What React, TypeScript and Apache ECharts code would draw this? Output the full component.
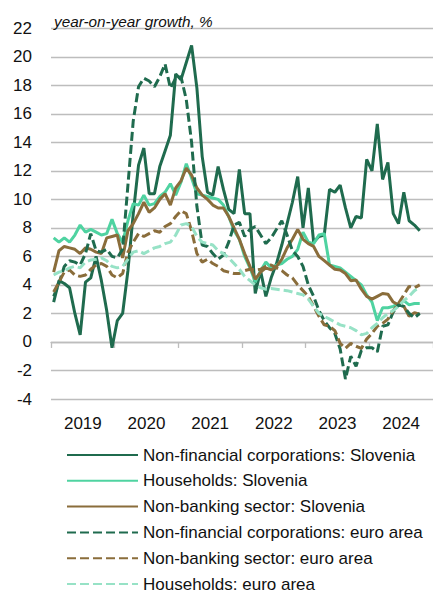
import React, { useEffect, useRef } from 'react';
import * as echarts from 'echarts';

const years = ['2019', '2020', '2021', '2022', '2023', '2024'];
const monthNames = ['Jan', 'Feb', 'Mar', 'Apr', 'May', 'Jun', 'Jul', 'Aug', 'Sep', 'Oct', 'Nov', 'Dec'];
const months = years.flatMap((y) => monthNames.map((m) => `${m} ${y}`));

const yMin = -4;
const yMax = 22;
const yStep = 2;

const titleText = 'year-on-year growth, %';

const seriesNames = [
  'Non-financial corporations: Slovenia',
  'Households: Slovenia',
  'Non-banking sector: Slovenia',
  'Non-financial corporations: euro area',
  'Non-banking sector: euro area',
  'Households: euro area',
];

const nfcSlovenia = [
  2.8, 4.3, 4.1, 3.8, 2.0, 0.5, 4.2, 4.5, 6.0, 4.3, 2.2, -0.4,
  1.5, 2.0, 5.0, 9.0, 12.4, 13.6, 10.4, 10.4, 12.3, 13.4, 14.5, 18.8,
  18.4, 19.6, 20.8, 17.8, 13.0, 10.5, 10.3, 12.3, 10.7, 9.3, 9.0, 12.1,
  9.0, 9.0, 3.4, 5.0, 3.2, 4.5, 5.5, 6.8, 8.3, 9.8, 11.6, 8.0,
  10.8, 7.0, 7.4, 7.5, 10.7, 10.5, 11.0, 9.4, 8.0, 8.8, 8.7, 12.8,
  12.0, 15.3, 11.4, 12.6, 9.0, 8.3, 10.5, 8.5, 8.2, 7.8,
];

const hhSlovenia = [
  7.3, 7.0, 7.3, 7.0, 7.5, 8.2, 7.7, 7.9, 7.7, 7.5, 7.6, 8.6,
  7.6, 7.0, 8.5, 9.7, 9.6, 10.3, 9.6, 9.7, 10.2, 10.5, 11.1, 10.3,
  11.2, 12.5, 11.5, 10.4, 10.3, 10.2, 10.1, 10.0, 9.6, 8.8, 7.8, 7.2,
  6.0, 5.2, 4.2, 5.0, 5.6, 5.2, 5.4, 5.5, 5.8, 6.0, 6.5, 7.7,
  7.0, 6.9, 7.5, 7.6, 5.4, 5.3, 5.2, 4.9, 4.6, 4.3, 4.0, 3.3,
  2.8, 1.5, 2.4, 2.4, 2.5, 2.7, 2.9, 2.6, 2.7, 2.7,
];

const nbsSlovenia = [
  4.9, 6.4, 6.7, 6.6, 6.5, 6.2, 6.6, 6.5, 6.3, 6.2, 7.3, 7.4,
  7.5, 5.9, 7.8, 8.3, 9.0, 9.8, 9.1, 9.4, 10.0, 10.4, 9.6, 10.8,
  11.3, 12.2, 11.7, 10.8, 10.3, 10.0, 9.6, 9.4, 9.4, 8.8, 8.0, 7.2,
  6.2, 5.3, 4.4, 4.9, 5.2, 5.05, 5.3, 5.8, 6.6, 7.2, 7.9, 7.2,
  6.9, 6.7, 6.0, 5.7, 5.4, 5.1, 5.05, 4.8, 4.3, 4.35, 3.7, 3.2,
  3.0, 3.2, 3.4, 3.35, 2.8, 2.6, 2.5, 1.8, 2.05, 1.95,
];

const nfcEuroArea = [
  3.2, 4.1, 5.3, 5.7, 5.6, 5.4, 6.2, 7.6, 6.4, 6.3, 6.5, 6.0,
  5.9, 6.5, 11.0, 15.5, 17.9, 18.5, 18.3, 17.9, 18.6, 19.5, 17.8, 18.5,
  18.6, 17.0, 14.0, 9.5, 6.8, 6.7, 6.2, 5.8, 6.1, 7.0, 8.2, 8.4,
  7.4, 7.9, 8.1, 7.5, 6.9, 7.3, 7.9, 8.5, 7.5, 6.4, 6.0, 5.3,
  4.0, 3.2, 2.2, 1.5, 1.0, 0.6, -0.5, -2.6, -1.0, -1.7, -0.6, -0.4,
  -0.4, -0.7, 1.1, 1.2, 2.1, 2.6, 2.5, 2.0, 1.7, 2.0,
];

const nbsEuroArea = [
  3.5, 4.2, 4.9, 5.05, 4.7, 4.6, 4.7, 5.1, 5.4, 5.5, 5.3, 4.7,
  4.5, 4.8, 6.3, 7.0, 7.6, 7.4, 7.6, 7.8, 7.7, 8.1, 8.3, 8.8,
  9.2, 9.0, 7.8, 6.2, 5.6, 5.8, 5.5, 5.3, 5.0, 4.9, 4.8, 4.8,
  5.0, 5.1, 5.05, 5.1, 5.3, 5.4, 5.2, 5.0, 4.7, 4.5, 4.0, 3.6,
  3.2, 2.5, 1.8, 1.2, 1.1, 0.8, -0.1, -0.45, -0.1, -0.3, -0.45, 0.2,
  0.6, 1.1, 1.3, 1.6, 2.2, 2.7, 3.3, 3.9, 3.8, 4.0,
];

const hhEuroArea = [
  4.7, 4.9, 5.0, 5.2, 5.3, 5.2, 5.6, 5.75, 5.8, 5.9, 5.7, 5.3,
  5.2, 5.3, 5.8, 6.3, 6.4, 6.2, 6.4, 6.6, 6.7, 6.9, 7.0, 7.5,
  8.2, 8.3, 8.1, 7.4, 7.0, 6.9, 6.8, 6.4, 6.2, 5.9, 5.5, 5.1,
  4.6, 4.3, 4.0, 3.8, 3.7, 3.75, 3.7, 3.65, 3.6, 3.5, 3.4, 3.3,
  3.0, 2.5, 2.0, 1.8, 1.6, 1.4, 1.2, 1.1, 1.0, 0.8, 0.5, 0.6,
  1.0, 1.3, 1.7, 2.0, 2.2, 2.5, 2.9, 3.2, 3.6, 3.85,
];

const seriesData = [nfcSlovenia, hhSlovenia, nbsSlovenia, nfcEuroArea, nbsEuroArea, hhEuroArea];

const DARK = '#1f6b4e';
const LIGHT = '#4fd3a1';
const BROWN = '#8a6d3b';
const PALE = '#97e2c6';
const seriesColors = [DARK, LIGHT, BROWN, DARK, BROWN, PALE];
const seriesDashed = [false, false, false, true, true, true];

const FONT = '"Liberation Sans", Arial, sans-serif';
const TEXT = '#111111';
const GRID = '#bdbdbd';

export default function App() {
  const ref = useRef<HTMLDivElement>(null);

  useEffect(() => {
    if (!ref.current) return;
    const chart = echarts.init(ref.current, null, { renderer: 'svg' });
    const option: any = {
      animation: false,
      backgroundColor: '#ffffff',
      textStyle: { fontFamily: FONT },
      title: {
        text: titleText,
        left: 54,
        top: 14,
        padding: 0,
        textStyle: {
          fontFamily: FONT,
          fontStyle: 'italic',
          fontWeight: 'normal',
          fontSize: 15.3,
          color: TEXT,
        },
      },
      grid: { left: 51, top: 28.3, bottom: 193, right: -3.7 },
      legend: {
        orient: 'vertical',
        left: 66,
        top: 446.5,
        width: 370,
        height: 200,
        padding: 0,
        itemWidth: 71,
        itemHeight: 16,
        itemGap: 8.8,
        data: seriesNames,
        itemStyle: { opacity: 0, borderWidth: 0 },
        textStyle: { fontFamily: FONT, fontSize: 17, color: TEXT, lineHeight: 16 },
      },
      xAxis: [
        {
          type: 'category',
          data: years,
          position: 'bottom',
          boundaryGap: true,
          axisLine: { show: true, onZero: true, lineStyle: { color: GRID, width: 1.3 } },
          axisTick: { show: true, interval: 0, length: 6, lineStyle: { color: GRID, width: 1.3 } },
          axisLabel: { show: false },
          splitLine: { show: false },
        },
        {
          type: 'category',
          data: years,
          position: 'bottom',
          boundaryGap: true,
          axisLine: { show: false, onZero: false },
          axisTick: { show: false },
          axisLabel: { show: true, interval: 0, margin: 16, fontSize: 17, color: TEXT, fontFamily: FONT },
          splitLine: { show: false },
        },
        {
          type: 'category',
          data: months,
          position: 'bottom',
          boundaryGap: true,
          show: false,
          axisLine: { show: false, onZero: false },
        },
      ],
      yAxis: {
        type: 'value',
        min: yMin,
        max: yMax,
        interval: yStep,
        axisLine: { show: false },
        axisTick: { show: false },
        axisLabel: { fontSize: 17, color: TEXT, margin: 19, fontFamily: FONT },
        splitLine: { show: true, lineStyle: { color: GRID, width: 1.3 } },
      },
      series: seriesNames.map((name, i) => ({
        name,
        type: 'line',
        xAxisIndex: 2,
        data: seriesData[i],
        symbol: 'none',
        showSymbol: false,
        smooth: false,
        color: seriesColors[i],
        lineStyle: {
          color: seriesColors[i],
          width: 3,
          type: seriesDashed[i] ? [9, 4] : 'solid',
        },
        itemStyle: { color: seriesColors[i] },
      })),
    };
    chart.setOption(option);
    return () => chart.dispose();
  }, []);

  return (
    <div
      ref={ref}
      style={{ position: 'fixed', left: 0, top: 0, width: 433, height: 592, background: '#fff' }}
    />
  );
}
